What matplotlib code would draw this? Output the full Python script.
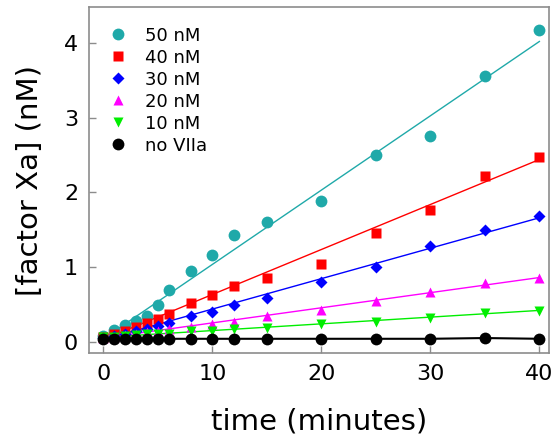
import numpy as np
import matplotlib
matplotlib.use('Agg')
import matplotlib.pyplot as plt

plt.rcParams['font.family'] = ['DejaVu Sans']

# time points (minutes)
t = [0, 1, 2, 3, 4, 5, 6, 8, 10, 12, 15, 20, 25, 30, 35, 40]

# [factor Xa] (nM)
xa50 = [0.08, 0.16, 0.22, 0.28, 0.35, 0.49, 0.69, 0.95, 1.16, 1.43, 1.60, 1.89, 2.50, 2.76, 3.56, 4.17]
xa40 = [0.06, 0.10, 0.15, 0.20, 0.25, 0.31, 0.37, 0.52, 0.63, 0.75, 0.85, 1.04, 1.46, 1.77, 2.22, 2.48]
xa30 = [0.05, 0.08, 0.11, 0.14, 0.17, 0.21, 0.25, 0.35, 0.40, 0.49, 0.59, 0.80, 1.00, 1.28, 1.49, 1.68]
xa20 = [0.05, 0.07, 0.09, 0.11, 0.13, 0.15, 0.17, 0.20, 0.24, 0.27, 0.34, 0.43, 0.54, 0.67, 0.79, 0.85]
xa10 = [0.06, 0.07, 0.08, 0.09, 0.10, 0.10, 0.11, 0.14, 0.15, 0.17, 0.19, 0.24, 0.27, 0.32, 0.38, 0.41]
xa0 = [0.04, 0.04, 0.04, 0.04, 0.04, 0.04, 0.04, 0.04, 0.04, 0.04, 0.04, 0.04, 0.04, 0.04, 0.05, 0.04]

# linear fits: value at start and end of the fit range
fit_t = [0, 40]
fit50 = [0.04, 4.02]
fit40 = [0.03, 2.44]
fit30 = [0.03, 1.66]
fit20 = [0.05, 0.86]
fit10 = [0.06, 0.42]

labels = ['50 nM', '40 nM', '30 nM', '20 nM', '10 nM', 'no VIIa']

fig = plt.figure(figsize=(5.57, 4.44), dpi=100)
ax = fig.add_axes([0.160, 0.205, 0.826, 0.779])

teal = '#1fa9a9'
series = [
    (xa50, fit50, teal, 'o', 8.5),
    (xa40, fit40, '#ff0000', 's', 7.5),
    (xa30, fit30, '#0000ff', 'D', 5.8),
    (xa20, fit20, '#ff00ff', '^', 7.5),
    (xa10, fit10, '#00ee00', 'v', 7.5),
]

# fitted lines first, markers on top
for vals, fit, col, mk, ms in series:
    ax.plot(fit_t, fit, color=col, lw=1.0, zorder=2)
ax.plot(t, xa0, color='black', lw=1.5, zorder=2)

handles = []
for (vals, fit, col, mk, ms), lab in zip(series, labels[:5]):
    h, = ax.plot(t, vals, linestyle='none', marker=mk, ms=ms, color=col,
                 mec='none', label=lab, zorder=3)
    handles.append(h)
h, = ax.plot(t, xa0, linestyle='none', marker='o', ms=8.5, color='black',
             mec='none', label=labels[5], zorder=4)
handles.append(h)

ax.set_xlim(-1.3, 40.9)
ax.set_ylim(-0.15, 4.48)
ax.set_xticks([0, 10, 20, 30, 40])
ax.set_yticks([0, 1, 2, 3, 4])

for s in ax.spines.values():
    s.set_color('#8c8c8c')
    s.set_linewidth(1.2)
ax.tick_params(direction='in', length=5, width=1, color='#8c8c8c',
               labelsize=16, pad=8)

ax.set_xlabel('time (minutes)', fontsize=21, labelpad=17)
ax.set_ylabel('[factor Xa] (nM)', fontsize=21, labelpad=14)

ax.legend(handles=handles, loc='upper left', frameon=False, fontsize=13,
          handlelength=1.0, handletextpad=1.0, labelspacing=0.22,
          borderaxespad=0.3, bbox_to_anchor=(0.015, 0.98))

fig.savefig('out.png', dpi=100)
